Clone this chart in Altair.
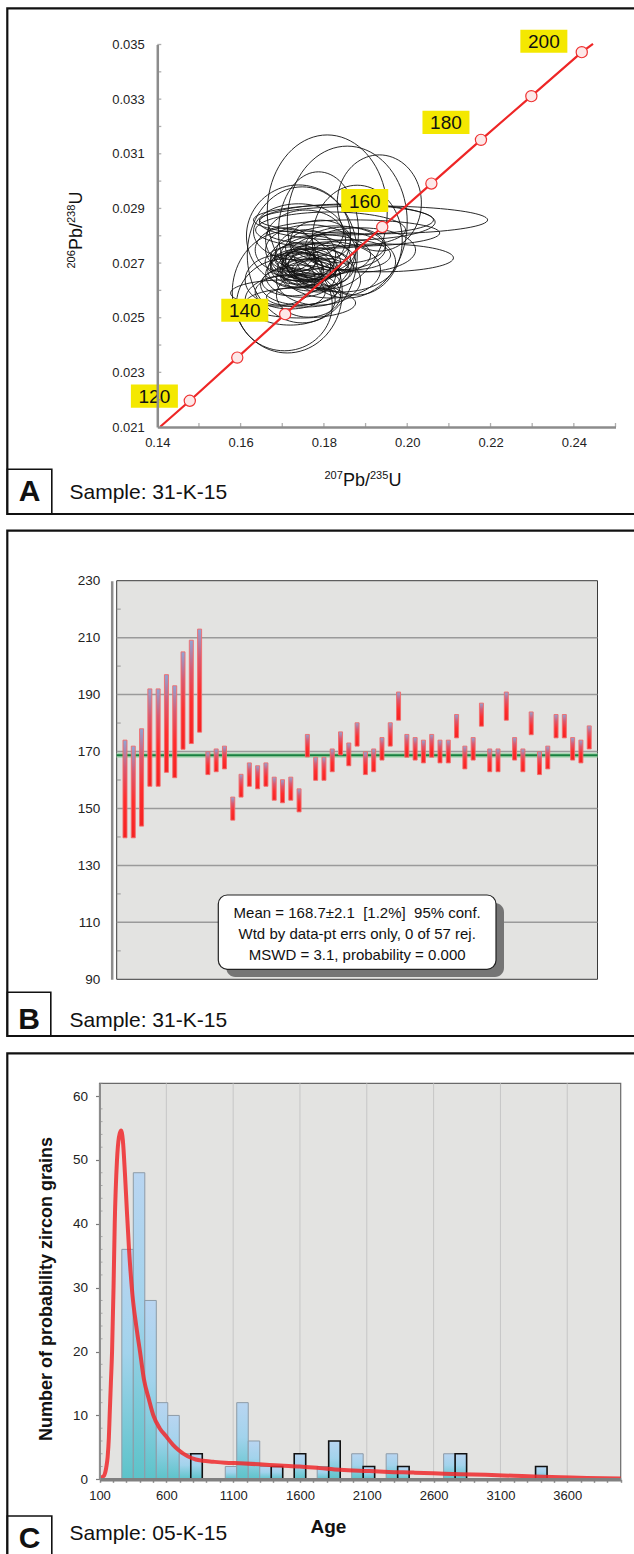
import altair as alt
import numpy as np
import pandas as pd

FONT = "Liberation Sans"

# ================= Panel A : concordia diagram, sample 31-K-15 =================
# error ellipses: centre (207Pb/235U, 206Pb/238U) and half-axes
ell_x = [0.1808, 0.1856, 0.1933, 0.1748, 0.1712, 0.1705, 0.1787, 0.1880, 0.1739,
         0.1919, 0.1938, 0.1871, 0.1847, 0.1816, 0.1744, 0.1703, 0.1751, 0.1856,
         0.1756, 0.1744, 0.1768, 0.1732, 0.1780, 0.1756, 0.1719, 0.1792, 0.1744,
         0.1768, 0.1734, 0.1772, 0.1804, 0.1828, 0.1852, 0.1744, 0.1719, 0.1695,
         0.1787, 0.1816, 0.1840, 0.1707, 0.1756, 0.1739, 0.1792, 0.1864, 0.1888,
         0.1719, 0.1763,
         0.1748, 0.1763, 0.1777, 0.1739, 0.1787, 0.1758, 0.1734, 0.1796, 0.1768, 0.1724]
ell_y = [0.02887, 0.02850, 0.02920, 0.02730, 0.02594, 0.02547, 0.02814, 0.02784, 0.02799,
         0.02858, 0.02719, 0.02810, 0.02858, 0.02821, 0.02554, 0.02590, 0.02576, 0.02850,
         0.02704, 0.02693, 0.02719, 0.02675, 0.02682, 0.02730, 0.02704, 0.02711, 0.02656,
         0.02748, 0.02719, 0.02689, 0.02730, 0.02755, 0.02766, 0.02620, 0.02594, 0.02638,
         0.02638, 0.02675, 0.02704, 0.02748, 0.02784, 0.02814, 0.02784, 0.02730, 0.02748,
         0.02565, 0.02583,
         0.02689, 0.02704, 0.02675, 0.02711, 0.02697, 0.02667, 0.02682, 0.02667, 0.02653, 0.02631]
ell_sx = [0.0144, 0.0144, 0.0101, 0.0132, 0.0132, 0.0115, 0.0096, 0.0108, 0.0125,
          0.0274, 0.0173, 0.0207, 0.0216, 0.0180, 0.0132, 0.0127, 0.0089, 0.0211,
          0.0084, 0.0072, 0.0096, 0.0067, 0.0091, 0.0072, 0.0060, 0.0084, 0.0084,
          0.0108, 0.0053, 0.0060, 0.0108, 0.0120, 0.0096, 0.0096, 0.0084, 0.0084,
          0.0101, 0.0120, 0.0132, 0.0072, 0.0096, 0.0108, 0.0072, 0.0096, 0.0132,
          0.0108, 0.0077,
          0.0048, 0.0062, 0.0053, 0.0043, 0.0072, 0.0058, 0.0062, 0.0067, 0.0072, 0.0072]
ell_sy = [0.00282, 0.00278, 0.00176, 0.00249, 0.00223, 0.00168, 0.00220, 0.00201, 0.00187,
          0.00051, 0.00051, 0.00048, 0.00055, 0.00066, 0.00055, 0.00048, 0.00037, 0.00066,
          0.00073, 0.00059, 0.00081, 0.00066, 0.00073, 0.00092, 0.00055, 0.00062, 0.00081,
          0.00092, 0.00051, 0.00051, 0.00073, 0.00081, 0.00066, 0.00073, 0.00062, 0.00092,
          0.00092, 0.00103, 0.00110, 0.00081, 0.00110, 0.00103, 0.00073, 0.00055, 0.00081,
          0.00092, 0.00081,
          0.00044, 0.00048, 0.00044, 0.00040, 0.00055, 0.00048, 0.00059, 0.00051, 0.00055, 0.00051]

conc_x = [0.1407, 0.1478, 0.1592, 0.1707, 0.1823, 0.1940, 0.2058, 0.2177, 0.2298, 0.2419, 0.2446]
conc_y = [0.02101, 0.02196, 0.02354, 0.02513, 0.02672, 0.02832, 0.02991, 0.03151, 0.03311, 0.03472, 0.03502]
mark_x = [0.1478, 0.1592, 0.1707, 0.1940, 0.2058, 0.2177, 0.2298, 0.2419]
mark_y = [0.02196, 0.02354, 0.02513, 0.02832, 0.02991, 0.03151, 0.03311, 0.03472]
age_lab = ["120", "140", "160", "180", "200"]
age_lab_x = [0.1393, 0.1610, 0.1898, 0.2093, 0.2328]
age_lab_y = [0.02213, 0.02527, 0.02929, 0.03215, 0.03512]

a_x_labels = [0.14, 0.16, 0.18, 0.20, 0.22, 0.24]
a_y_labels = [0.021, 0.023, 0.025, 0.027, 0.029, 0.031, 0.033, 0.035]
a_x_ticks = [0.15, 0.16, 0.17, 0.18, 0.19, 0.20, 0.21, 0.22, 0.23, 0.24, 0.25]
a_y_ticks = [0.022, 0.023, 0.024, 0.025, 0.026, 0.027, 0.028, 0.029, 0.030,
             0.031, 0.032, 0.033, 0.034, 0.035]

# ================= Panel B : weighted mean ages, sample 31-K-15 =================
b_hi = [174.0, 171.9, 178.0, 192.0, 192.0, 197.0, 193.1, 205.0, 209.1, 213.0,
        169.9, 170.9, 171.9, 154.0, 162.0, 166.0, 165.0, 166.0, 161.0, 160.1,
        161.0, 156.9, 176.0, 168.0, 168.0, 170.9, 176.9, 173.0, 180.1, 169.9,
        170.9, 174.9, 180.1, 190.9, 176.0, 174.9, 174.0, 176.0, 174.0, 174.0,
        183.0, 171.9, 174.9, 187.0, 170.9, 170.9, 190.9, 174.9, 170.9, 183.9,
        169.9, 171.9, 183.0, 183.0, 174.9, 174.0, 179.0]
b_lo = [139.7, 139.7, 143.8, 157.8, 157.8, 162.7, 160.8, 170.8, 172.8, 176.8,
        161.9, 162.9, 163.9, 145.9, 154.0, 157.8, 156.9, 157.8, 152.9, 152.0,
        152.9, 148.8, 168.1, 159.9, 159.9, 162.9, 168.8, 165.0, 171.9, 161.9,
        162.9, 167.0, 171.9, 181.0, 168.0, 167.0, 166.0, 168.0, 166.0, 166.0,
        174.8, 163.9, 167.0, 178.9, 162.9, 162.9, 181.0, 167.0, 162.9, 175.9,
        161.9, 163.9, 174.8, 174.8, 167.0, 166.0, 170.9]
b_pos = list(range(1, 58))
mean_age = 168.7
b_labels = [90, 110, 130, 150, 170, 190, 210, 230]
b_grid = [110, 130, 150, 170, 190, 210]
b_minor = [100, 120, 140, 160, 180, 200, 220]
NB = "\u00a0"
b_text = ["Mean = 168.7\u00b12.1 " + NB + "[1.2%] " + NB + "95% conf.",
          "Wtd by data-pt errs only, 0 of 57 rej.",
          "MSWD = 3.1, probability = 0.000"]

# ================= Panel C : detrital zircon ages, sample 05-K-15 =================
h_start = [267, 353, 439, 525, 611, 697, 783, 1041, 1127, 1213, 1299, 1385,
           1557, 1729, 1815, 1987, 2073, 2245, 2331, 2675, 2761, 3363]
h_count = [36, 48, 28, 12, 10, 4, 4, 2, 12, 6, 2, 2, 4, 2, 6, 4, 2, 4, 2, 4, 4, 2]
h_flag = [0, 0, 0, 0, 0, 0, 1, 0, 0, 0, 0, 1, 1, 0, 1, 0, 1, 0, 1, 0, 1, 1]
h_width = 86
curve_age = [100, 131, 150, 161, 170, 176, 185, 194, 205, 214, 231, 245, 261, 275, 290,
             305, 321, 346, 375, 403, 433, 470, 503, 550, 600, 650, 691, 760, 820, 872,
             950, 1039, 1150, 1296, 1450, 1598, 1750, 1901, 2100, 2264, 2450, 2597, 2800,
             2990, 3200, 3354, 3550, 3747, 4000]
curve_n = [0.2, 0.5, 1.8, 3.5, 6.5, 10, 15, 20, 30, 40, 50, 53.5, 54.6, 53, 48,
           42, 36, 29, 24, 20, 15.6, 12.5, 10, 8, 6.7, 5.4, 4.6, 3.6, 3.1, 2.9,
           2.75, 2.6, 2.5, 2.35, 2.15, 2.0, 1.75, 1.5, 1.3, 1.15, 1.05, 0.95, 0.8,
           0.7, 0.55, 0.45, 0.32, 0.2, 0.12]
c_y_labels = [0, 10, 20, 30, 40, 50, 60]
c_y_minor = [2, 4, 6, 8, 12, 14, 16, 18, 22, 24, 26, 28, 32, 34, 36, 38, 42, 44, 46, 48,
             52, 54, 56, 58, 62]
c_x_labels = [100, 600, 1100, 1600, 2100, 2600, 3100, 3600]
c_x_ticks = list(range(100, 4001, 100))
c_grid = [600, 1100, 1600, 2100, 2600, 3100, 3600]

one = pd.DataFrame({"d": [0]})

# ------------------------------------------------------------------ panel A
theta = np.linspace(0, 2 * np.pi, 81)
rows = []
for i, (cx, cy, sx, sy) in enumerate(zip(ell_x, ell_y, ell_sx, ell_sy)):
    for k, t in enumerate(theta):
        rows.append({"e": i, "k": k, "x": cx + sx * np.cos(t), "y": cy + sy * np.sin(t)})
ell_df = pd.DataFrame(rows)
conc_df = pd.DataFrame({"x": conc_x, "y": conc_y, "k": range(len(conc_x))})
mark_df = pd.DataFrame({"x": mark_x, "y": mark_y})
lab_df = pd.DataFrame({"x": age_lab_x, "y": age_lab_y, "t": age_lab})
axt_df = pd.DataFrame({"v": a_x_ticks})
ayt_df = pd.DataFrame({"v": a_y_ticks})

xa = alt.Scale(domain=[0.14, 0.25], range=[157.3, 615.5], nice=False, zero=False)
ya = alt.Scale(domain=[0.021, 0.035], range=[427.0, 44.5], nice=False, zero=False)
axA_x = alt.Axis(orient="bottom", offset=-1127, values=a_x_labels, format=".2f", ticks=False,
                 domainColor="#8c8c8c", domainWidth=2.5, labelFont=FONT, labelFontSize=13,
                 labelColor="#222222", labelPadding=9, labelFlush=False, labelOverlap=False,
                 grid=False, title=None, zindex=1)
axA_y = alt.Axis(orient="left", offset=-157.3, values=a_y_labels, format=".3f", ticks=False,
                 domainColor="#8c8c8c", domainWidth=2.5, labelFont=FONT, labelFontSize=13,
                 labelColor="#222222", labelPadding=13, labelOverlap=False,
                 grid=False, title=None, zindex=1)


def AX(f):
    return alt.X(f, type="quantitative", scale=xa, axis=axA_x)


def AY(f):
    return alt.Y(f, type="quantitative", scale=ya, axis=axA_y)


a_ell = alt.Chart(ell_df).mark_line(color="#111111", strokeWidth=0.9).encode(
    x=AX("x"), y=AY("y"), detail="e:N", order="k:Q")
a_conc = alt.Chart(conc_df).mark_line(color="#ee2626", strokeWidth=2.2).encode(
    x=AX("x"), y=AY("y"), order="k:Q")
a_mark = alt.Chart(mark_df).mark_point(shape="circle", size=125, filled=True, fill="#fde8e8",
                                       stroke="#ee3232", strokeWidth=1.2, opacity=1).encode(
    x=AX("x"), y=AY("y"))
a_box = alt.Chart(lab_df).mark_point(shape="M-1,-0.49H1V0.49H-1Z", size=2209, filled=True,
                                     fill="#f4e800", opacity=1, strokeWidth=0).encode(
    x=AX("x"), y=AY("y"))
a_lab = alt.Chart(lab_df).mark_text(font=FONT, fontSize=19, color="#111111", dy=1).encode(
    x=AX("x"), y=AY("y"), text="t:N")
a_ytk = alt.Chart(ayt_df).mark_tick(orient="horizontal", size=4, thickness=1.3, color="#8c8c8c",
                                    xOffset=2).encode(
    y=AY("v"), x=alt.XDatum(0.14, type="quantitative", scale=xa, axis=axA_x))
a_xtk = alt.Chart(axt_df).mark_tick(orient="vertical", size=4, thickness=1.3, color="#8c8c8c",
                                    yOffset=-2).encode(
    x=AX("v"), y=alt.YDatum(0.021, type="quantitative", scale=ya, axis=axA_y))
panelA = alt.layer(a_ell, a_conc, a_mark, a_box, a_lab, a_ytk, a_xtk)

# ------------------------------------------------------------------ panel B
bars_df = pd.DataFrame({"pos": b_pos, "lo": b_lo, "hi": b_hi})
xb = alt.Scale(domain=[0, 58], range=[111.7, 602.5], nice=False, zero=False)
yb = alt.Scale(domain=[90, 230], range=[979.3, 580.7], nice=False, zero=False)
axB_y = alt.Axis(orient="left", offset=-111.7, values=b_labels, format="d", ticks=False,
                 domainColor="#8c8c8c", domainWidth=2.5, labelFont=FONT, labelFontSize=13.5,
                 labelColor="#222222", labelPadding=12, labelOverlap=False,
                 grid=False, title=None, zindex=1)


def BX(f):
    return alt.X(f, type="quantitative", scale=xb, axis=None)


def BY(f):
    return alt.Y(f, type="quantitative", scale=yb, axis=axB_y)


bx0 = alt.XDatum(0, type="quantitative", scale=xb, axis=None)
bx1 = alt.X2Datum(58)
b_bg = alt.Chart(one).mark_rect(fill="#e3e3e1", stroke="#3a3a3a", strokeWidth=1).encode(
    x=bx0, x2=bx1, y=alt.YDatum(90, type="quantitative", scale=yb, axis=axB_y),
    y2=alt.Y2Datum(230))
b_grid_l = alt.Chart(pd.DataFrame({"v": b_grid})).mark_rule(color="#9a9a9a", strokeWidth=1.5).encode(
    y=BY("v"), x=bx0, x2=bx1)
b_minor_t = alt.Chart(pd.DataFrame({"v": b_minor})).mark_tick(
    orient="horizontal", size=4, thickness=1.3, color="#8c8c8c", xOffset=2).encode(
    y=BY("v"), x=bx0)
b_mean_halo = alt.Chart(pd.DataFrame({"v": [mean_age]})).mark_rule(
    color="#a9d6b2", strokeWidth=5).encode(y=BY("v"), x=bx0, x2=bx1)
b_mean = alt.Chart(pd.DataFrame({"v": [mean_age]})).mark_rule(
    color="#17803f", strokeWidth=2.2).encode(y=BY("v"), x=bx0, x2=bx1)
grad_B = alt.Gradient(gradient="linear", x1=0, x2=0, y1=0, y2=1, stops=[
    alt.GradientStop(color="#8ea6d6", offset=0),
    alt.GradientStop(color="#d85a72", offset=0.28),
    alt.GradientStop(color="#ff2e2e", offset=0.6),
    alt.GradientStop(color="#f42222", offset=1)])
b_bars = alt.Chart(bars_df).mark_bar(width=4, fill=grad_B, stroke="#f46a6a", strokeWidth=0.9).encode(
    x=BX("pos"), y=BY("lo"), y2="hi")
panelB = alt.layer(b_bg, b_grid_l, b_minor_t, b_mean_halo, b_mean, b_bars)

# ------------------------------------------------------------------ panel C
hist_df = pd.DataFrame({"s": h_start, "n": h_count, "flag": h_flag})
hist_df["e"] = hist_df["s"] + h_width
curve_df = pd.DataFrame({"age": curve_age, "n": curve_n})
xc = alt.Scale(domain=[100, 4000], range=[99.5, 620.7], nice=False, zero=False)
yc = alt.Scale(domain=[0, 62], range=[1479.3, 1083.3], nice=False, zero=False)
axC_x = alt.Axis(orient="bottom", offset=-74.7, values=c_x_ticks, format="d",
                 labelExpr="indexof([100,600,1100,1600,2100,2600,3100,3600], datum.value) >= 0 ? datum.label : ''",
                 tickSize=3, tickColor="#8a8a8a", tickWidth=1.5,
                 domainColor="#808080", domainWidth=3.5, labelFont=FONT, labelFontSize=13,
                 labelColor="#222222", labelPadding=7, labelFlush=False, labelOverlap=False,
                 grid=False, title=None, zindex=1)
axC_y = alt.Axis(orient="left", offset=-99.5, values=c_y_labels, format="d",
                 tickSize=4, tickColor="#7a7a7a", tickWidth=1.2,
                 domainColor="#8c8c8c", domainWidth=2, labelFont=FONT, labelFontSize=13.5,
                 labelColor="#222222", labelPadding=8, labelOverlap=False,
                 grid=False, title=None, zindex=1)


def CX(f):
    return alt.X(f, type="quantitative", scale=xc, axis=axC_x)


def CY(f):
    return alt.Y(f, type="quantitative", scale=yc, axis=axC_y)


cx0 = alt.XDatum(100, type="quantitative", scale=xc, axis=axC_x)
cy0 = alt.YDatum(0, type="quantitative", scale=yc, axis=axC_y)
c_bg = alt.Chart(one).mark_rect(fill="#e3e3e1", stroke="#6a6a6a", strokeWidth=1.2).encode(
    x=cx0, x2=alt.X2Datum(4000), y=cy0, y2=alt.Y2Datum(62))
c_grid_l = alt.Chart(pd.DataFrame({"v": c_grid})).mark_rule(color="#c6c6c6", strokeWidth=1).encode(
    x=CX("v"), y=cy0, y2=alt.Y2Datum(62))
c_minor_t = alt.Chart(pd.DataFrame({"v": c_y_minor})).mark_tick(
    orient="horizontal", size=3, thickness=1, color="#8c8c8c", xOffset=1.5).encode(
    y=CY("v"), x=cx0)
grad_C = alt.Gradient(gradient="linear", x1=0, x2=0, y1=0, y2=1, stops=[
    alt.GradientStop(color="#b9d5f1", offset=0),
    alt.GradientStop(color="#a2d3ec", offset=0.45),
    alt.GradientStop(color="#5cc3c9", offset=1)])
c_bars = alt.Chart(hist_df).mark_rect(fill=grad_C).encode(
    x=CX("s"), x2="e", y=CY("n"), y2=alt.Y2Datum(0),
    stroke=alt.condition("datum.flag == 1", alt.value("#111111"), alt.value("#8d9ba7")),
    strokeWidth=alt.condition("datum.flag == 1", alt.value(1.6), alt.value(1.0)))
c_curve = alt.Chart(curve_df).mark_line(color="#f0292b", strokeWidth=4, opacity=0.85,
                                        interpolate="monotone").encode(
    x=CX("age"), y=CY("n"))
panelC = alt.layer(c_bg, c_grid_l, c_minor_t, c_bars, c_curve)


# ------------------------------------------------------------------ decorations
def rect(x1, x2, y1, y2, sw=2.2, fill=None, stroke="#111111", radius=0):
    kw = dict(stroke=stroke, strokeWidth=sw, cornerRadius=radius)
    if fill is None:
        kw["fillOpacity"] = 0
    else:
        kw["fill"] = fill
    return alt.Chart(one).mark_rect(**kw).encode(
        x=alt.value(x1), x2=alt.value(x2), y=alt.value(y1), y2=alt.value(y2))


def txt(s, x, y, size, bold=False, align="left", angle=0, color="#111111", baseline="middle"):
    kw = dict(text=s, font=FONT, fontSize=size, align=align, baseline=baseline, color=color,
              fontWeight="bold" if bold else "normal")
    if angle:
        kw["angle"] = angle
    return alt.Chart(one).mark_text(**kw).encode(x=alt.value(x), y=alt.value(y))


# isotope ratio titles: small raised mass numbers + large element symbols
def iso_title_x(m1, m2, x0, base):
    return [
        txt(m1, x0, base - 7, 11, baseline="alphabetic"),
        txt("Pb/", x0 + 18.5, base, 18, baseline="alphabetic"),
        txt(m2, x0 + 45.5, base - 7, 11, baseline="alphabetic"),
        txt("U", x0 + 64, base, 18, baseline="alphabetic"),
    ]


def iso_title_y(m1, m2, y0, base):
    return [
        txt(m1, base - 7, y0, 11, baseline="alphabetic", angle=270),
        txt("Pb/", base, y0 - 18.5, 18, baseline="alphabetic", angle=270),
        txt(m2, base - 7, y0 - 45.5, 11, baseline="alphabetic", angle=270),
        txt("U", base, y0 - 64, 18, baseline="alphabetic", angle=270),
    ]


frames = [
    rect(7.3, 700, 8.3, 514),
    rect(7.3, 51.8, 469.3, 514, sw=1.6),
    rect(7.3, 700, 530.7, 1036),
    rect(7.3, 50.8, 992.3, 1036, sw=1.6),
    rect(7.3, 700, 1053.3, 1600),
    rect(7.3, 51.8, 1516, 1600, sw=1.6),
]
texts = [
    # panel A
    txt("A", 29.5, 491.5, 30, bold=True, align="center"),
    txt("Sample: 31-K-15", 69.5, 493, 21),
    *iso_title_x("207", "235", 324.5, 485.5),
    *iso_title_y("206", "238", 268.5, 81.5),
    # panel B
    rect(226.3, 504, 903, 977, sw=0, fill="#757575", stroke="#757575", radius=9),
    rect(218.3, 496, 895, 969.3, sw=1.2, fill="#ffffff", stroke="#222222", radius=9),
    txt(b_text[0], 357.2, 913.3, 15, align="center"),
    txt(b_text[1], 357.2, 934.3, 15, align="center"),
    txt(b_text[2], 357.2, 955, 15, align="center"),
    txt("B", 29, 1020, 30, bold=True, align="center"),
    txt("Sample: 31-K-15", 69.5, 1021, 21),
    # panel C
    txt("Number of probability zircon grains", 46.5, 1289, 18, bold=True, align="center", angle=270),
    txt("Age", 328.5, 1527, 19, bold=True, align="center"),
    txt("C", 29.5, 1539, 30, bold=True, align="center"),
    txt("Sample: 05-K-15", 69.5, 1533.5, 21),
]

chart = alt.layer(*frames, panelA, panelB, panelC, *texts).resolve_scale(
    x="independent", y="independent"
).properties(
    width=634, height=1554, padding=0, background="white",
    autosize=alt.AutoSizeParams(type="none")
).configure_view(stroke=None)

chart.save("out.html", embed_options={"renderer": "svg", "actions": False})
